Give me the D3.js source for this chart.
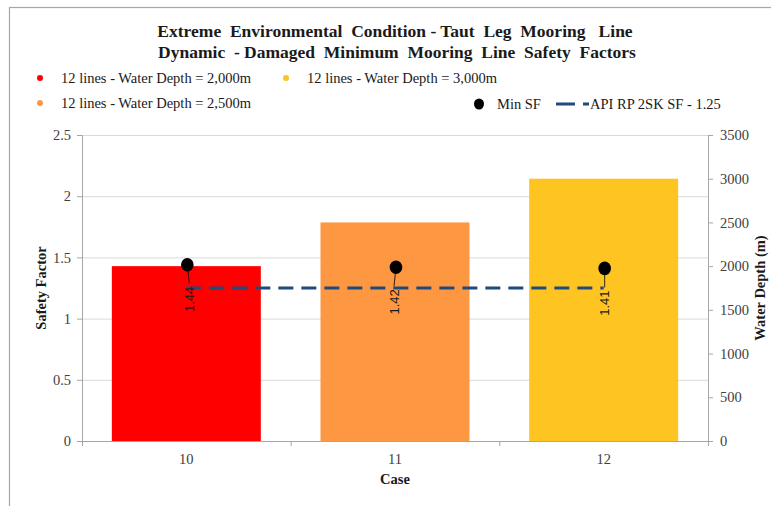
<!DOCTYPE html>
<html>
<head>
<meta charset="utf-8">
<script src="https://cdn.jsdelivr.net/npm/d3@7/dist/d3.min.js"></script>
<style>
  html, body { margin: 0; padding: 0; background: #fff; }
  svg { display: block; }
  text { font-family: "Liberation Serif", "Times New Roman", serif; }
</style>
</head>
<body>
<svg id="chart" width="771" height="506"></svg>
<script>
// Cases and per-case values
const cases = ["10", "11", "12"];
const waterDepth = [2000, 2500, 3000];          // bar heights, right axis (m)
const minSF = [1.44, 1.42, 1.41];               // Min SF points, left axis
const apiSF = [1.25, 1.25, 1.25];               // API RP 2SK limit
const barColors = ["#ff0000", "#fd9741", "#fec422"];
const seriesNames = [
  "12 lines - Water Depth = 2,000m",
  "12 lines - Water Depth = 2,500m",
  "12 lines - Water Depth = 3,000m"
];
const sfTicks = [0, 0.5, 1, 1.5, 2, 2.5];
const depthTicks = [0, 500, 1000, 1500, 2000, 2500, 3000, 3500];

const svg = d3.select("#chart");
const plot = { left: 82, right: 708, top: 135, bottom: 441 };

// outer chart frame
svg.append("rect")
  .attr("x", 9.5).attr("y", 7.5)
  .attr("width", 800).attr("height", 600)
  .attr("fill", "none").attr("stroke", "#a6a6a6").attr("stroke-width", 1.2);

// scales
const x = d3.scaleBand().domain(cases)
  .range([plot.left, plot.right])
  .paddingInner(0.286).paddingOuter(0.143);
const ySF = d3.scaleLinear().domain([0, 2.5]).range([plot.bottom, plot.top]);
const yDepth = d3.scaleLinear().domain([0, 3500]).range([plot.bottom, plot.top]);
const xc = c => x(c) + x.bandwidth() / 2;

// gridlines
svg.append("g").selectAll("line").data(sfTicks.filter(t => t > 0)).join("line")
  .attr("x1", plot.left).attr("x2", plot.right)
  .attr("y1", d => ySF(d) + 0.5).attr("y2", d => ySF(d) + 0.5)
  .attr("stroke", "#d9d9d9").attr("stroke-width", 1);

// bars (water depth)
svg.append("g").selectAll("rect").data(cases).join("rect")
  .attr("x", c => x(c))
  .attr("y", (c, i) => yDepth(waterDepth[i]))
  .attr("width", x.bandwidth())
  .attr("height", (c, i) => plot.bottom - yDepth(waterDepth[i]))
  .attr("fill", (c, i) => barColors[i]);

// axes
const tickStyle = g => {
  g.attr("font-family", null);
  g.select(".domain").attr("stroke", "#a6a6a6");
  g.selectAll(".tick line").attr("stroke", "#a6a6a6");
  g.selectAll(".tick text")
    .attr("fill", "#404040")
    .style("font-size", "14.5px")
    .style("font-family", "'Liberation Serif', 'Times New Roman', serif");
};

svg.append("g")
  .attr("transform", `translate(${plot.left},0)`)
  .call(d3.axisLeft(ySF).tickValues(sfTicks).tickFormat(d3.format("~g")).tickSize(5).tickPadding(6))
  .call(tickStyle);

svg.append("g")
  .attr("transform", `translate(${plot.right},0)`)
  .call(d3.axisRight(yDepth).tickValues(depthTicks).tickFormat(d3.format("d")).tickSize(5).tickPadding(7))
  .call(tickStyle);

const xAxis = svg.append("g")
  .attr("transform", `translate(0,${plot.bottom})`)
  .call(d3.axisBottom(x).tickSize(0).tickPadding(13))
  .call(tickStyle);
// category boundary ticks
const bounds = cases.map(c => x(c) - x.step() * x.paddingInner() / 2)
  .concat([plot.right]);
bounds[0] = plot.left;
xAxis.append("g").selectAll("line").data(bounds).join("line")
  .attr("x1", d => d + 0.5).attr("x2", d => d + 0.5)
  .attr("y1", 0).attr("y2", 5)
  .attr("stroke", "#a6a6a6");

// API RP 2SK dashed line
const line = d3.line().x(d => d[0]).y(d => d[1]);
svg.append("path")
  .attr("d", line(cases.map((c, i) => [xc(c), ySF(apiSF[i])])))
  .attr("fill", "none")
  .attr("stroke", "#1f4a7c")
  .attr("stroke-width", 3)
  .attr("stroke-dasharray", "15,8");

// Min SF points, leader lines and value labels
const labelShift = [2, -2, 0];
const pts = svg.append("g");
cases.forEach((c, i) => {
  const cx = xc(c) + 1;
  const cy = ySF(minSF[i]);
  const lx = cx + labelShift[i];
  pts.append("line")
    .attr("x1", cx).attr("y1", cy)
    .attr("x2", lx).attr("y2", cy + 19)
    .attr("stroke", "#000").attr("stroke-width", 0.8);
  pts.append("ellipse")
    .attr("cx", cx).attr("cy", cy)
    .attr("rx", 6.3).attr("ry", 6.8)
    .attr("fill", "#000");
  pts.append("text")
    .attr("transform", `translate(${lx},${cy + 22}) rotate(-90)`)
    .attr("text-anchor", "end")
    .attr("dy", "0.35em")
    .style("font-family", "'Liberation Sans', Arial, sans-serif")
    .style("font-size", "13px")
    .attr("fill", "#1a1a1a")
    .text(d3.format(".2f")(minSF[i]));
});

// title
const title = svg.append("text")
  .attr("x", 395).attr("y", 37)
  .attr("text-anchor", "middle")
  .attr("xml:space", "preserve")
  .style("white-space", "pre")
  .style("font-weight", "bold")
  .style("font-size", "17.5px")
  .attr("fill", "#1a1a1a");
title.append("tspan").attr("x", 395)
  .text("Extreme  Environmental  Condition - Taut  Leg  Mooring   Line");
title.append("tspan").attr("x", 397).attr("dy", 21)
  .text("Dynamic  - Damaged  Minimum  Mooring  Line  Safety  Factors");

// legend
const legend = svg.append("g").style("font-size", "14.5px");
const legendItems = [
  { x: 40, y: 78, i: 0 },
  { x: 40, y: 103, i: 1 },
  { x: 286, y: 78, i: 2 }
];
legendItems.forEach(d => {
  legend.append("circle").attr("cx", d.x).attr("cy", d.y).attr("r", 3)
    .attr("fill", barColors[d.i]);
  legend.append("text").attr("x", d.x + 21).attr("y", d.y).attr("dy", "0.33em")
    .attr("fill", "#1a1a1a").text(seriesNames[d.i]);
});
legend.append("ellipse").attr("cx", 479).attr("cy", 104).attr("rx", 5).attr("ry", 5.5)
  .attr("fill", "#000");
legend.append("text").attr("x", 497).attr("y", 104).attr("dy", "0.33em")
  .attr("fill", "#1a1a1a").text("Min SF");
legend.append("line").attr("x1", 556).attr("x2", 589).attr("y1", 104).attr("y2", 104)
  .attr("stroke", "#1f4a7c").attr("stroke-width", 3).attr("stroke-dasharray", "19,8");
legend.append("text").attr("x", 590).attr("y", 104).attr("dy", "0.33em")
  .attr("fill", "#1a1a1a").text("API RP 2SK SF - 1.25");

// axis titles
svg.append("text")
  .attr("transform", `translate(46,${(plot.top + plot.bottom) / 2}) rotate(-90)`)
  .attr("text-anchor", "middle")
  .style("font-weight", "bold").style("font-size", "14.5px")
  .attr("fill", "#1a1a1a")
  .text("Safety Factor");
svg.append("text")
  .attr("transform", `translate(765,${(plot.top + plot.bottom) / 2}) rotate(-90)`)
  .attr("text-anchor", "middle")
  .style("font-weight", "bold").style("font-size", "14.5px")
  .attr("fill", "#1a1a1a")
  .text("Water Depth (m)");
svg.append("text")
  .attr("x", (plot.left + plot.right) / 2).attr("y", 484)
  .attr("text-anchor", "middle")
  .style("font-weight", "bold").style("font-size", "14.5px")
  .attr("fill", "#1a1a1a")
  .text("Case");
</script>
</body>
</html>
